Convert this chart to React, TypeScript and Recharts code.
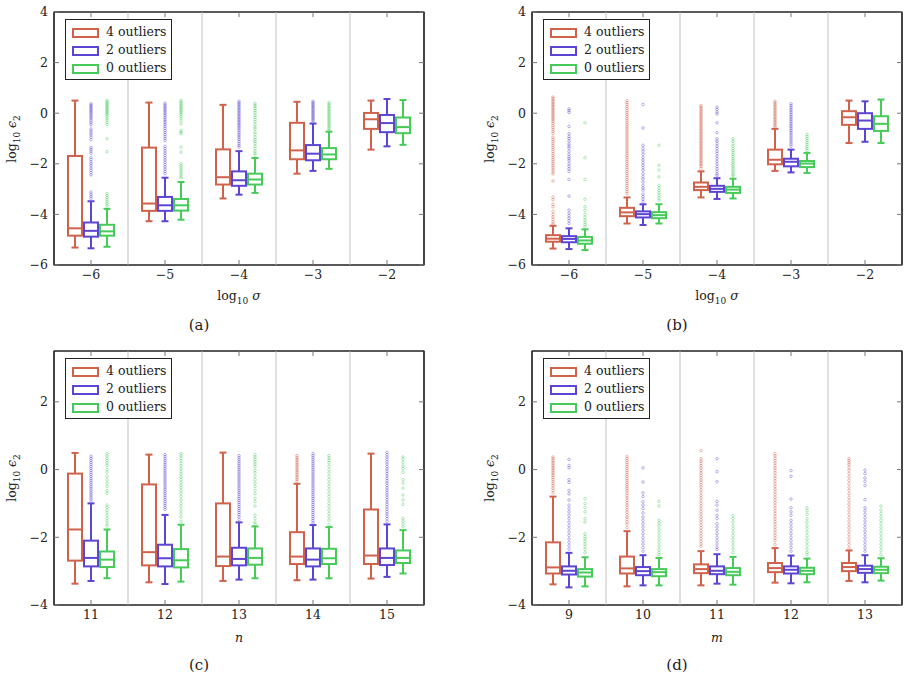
import React from 'react';
import { ComposedChart, Bar, XAxis, YAxis, ReferenceLine, ReferenceArea, Legend } from 'recharts';

// ---- Data ---- stats tuple: [lowerWhisker, q1, median, q3, upperWhisker]
type Stats = [number, number, number, number, number];

const SERIES_NAMES = ['4 outliers', '2 outliers', '0 outliers'];
const SERIES_COLORS = ['#d0624c', '#5d45d3', '#46cb59'];

// Panel (a): log10 sigma
const A_CATS = [-6, -5, -4, -3, -2];
const A_RED: Stats[] = [
  [-5.31, -4.84, -4.55, -1.69, 0.5],
  [-4.27, -3.86, -3.57, -1.36, 0.42],
  [-3.37, -2.82, -2.53, -1.43, 0.33],
  [-2.39, -1.82, -1.47, -0.38, 0.45],
  [-1.44, -0.62, -0.24, 0.01, 0.5],
];
const A_RED_OUT: number[][] = [[], [], [], [], []];
const A_BLUE: Stats[] = [
  [-5.34, -4.88, -4.65, -4.32, -3.48],
  [-4.27, -3.86, -3.64, -3.31, -2.55],
  [-3.22, -2.87, -2.65, -2.3, -1.5],
  [-2.28, -1.86, -1.6, -1.26, -0.41],
  [-1.31, -0.75, -0.39, -0.07, 0.56],
];
const A_BLUE_OUT: number[][] = [
  [0.37, 0.32, 0.27, 0.22, 0.17, 0.12, 0.07, 0.02, -0.04, -0.1, -0.16, -0.22, -0.3, -0.38, -0.46, -0.62, -0.7, -0.78, -0.86, -0.95, -1.05, -1.35, -1.42, -1.5, -1.58, -1.75, -1.83, -1.92, -2.0, -2.08, -2.17, -2.26, -2.35, -2.44, -3.12, -3.2, -3.28, -3.36],
  [0.39, 0.33, 0.27, 0.21, 0.15, 0.09, 0.03, -0.03, -0.1, -0.17, -0.24, -0.31, -0.38, -0.45, -0.52, -0.6, -0.68, -0.76, -0.84, -0.92, -1.0, -1.08, -1.31, -1.4, -1.49, -1.58, -1.67, -1.76, -1.85, -1.94, -2.03, -2.12, -2.21, -2.3, -2.39],
  [0.47, 0.41, 0.35, 0.29, 0.23, 0.17, 0.11, 0.05, -0.01, -0.07, -0.13, -0.19, -0.25, -0.31, -0.37, -0.43, -0.49, -0.55, -0.62, -0.69, -0.76, -0.83, -0.9, -0.97, -1.04, -1.12, -1.2, -1.27, -1.34],
  [0.47, 0.42, 0.37, 0.32, 0.27, 0.22, 0.17, 0.12, 0.07, 0.02, -0.03, -0.08, -0.13, -0.18, -0.23, -0.28, -0.35],
  [],
];
const A_GREEN: Stats[] = [
  [-5.28, -4.84, -4.67, -4.41, -3.78],
  [-4.21, -3.85, -3.64, -3.39, -2.72],
  [-3.15, -2.82, -2.62, -2.39, -1.77],
  [-2.2, -1.82, -1.63, -1.38, -0.73],
  [-1.25, -0.79, -0.55, -0.17, 0.52],
];
const A_GREEN_OUT: number[][] = [
  [0.5, 0.45, 0.4, 0.35, 0.3, 0.25, 0.2, 0.15, 0.1, 0.05, 0.0, -0.05, -0.12, -0.2, -0.28, -0.36, -0.45, -1.01, -1.52, -3.18, -3.26, -3.34, -3.42, -3.5, -3.58, -3.66],
  [0.5, 0.44, 0.38, 0.32, 0.26, 0.2, 0.14, 0.08, 0.02, -0.04, -0.12, -0.2, -0.3, -0.42, -0.68, -0.75, -0.81, -1.34, -1.54, -2.0, -2.08, -2.16, -2.24, -2.32, -2.4, -2.48, -2.56],
  [0.39, 0.32, 0.25, 0.18, 0.1, 0.02, -0.08, -0.16, -0.25, -0.34, -0.45, -0.55, -0.62, -0.75, -0.84, -0.95, -1.05, -1.12, -1.2, -1.3, -1.4, -1.5, -1.58, -1.66],
  [0.42, 0.36, 0.3, 0.24, 0.18, 0.12, 0.06, 0.0, -0.06, -0.12, -0.18, -0.24, -0.3, -0.36, -0.42, -0.48, -0.54, -0.6, -0.66],
  [],
];

// Panel (b): log10 sigma
const B_CATS = [-6, -5, -4, -3, -2];
const B_RED: Stats[] = [
  [-5.35, -5.08, -4.96, -4.82, -4.45],
  [-4.36, -4.07, -3.92, -3.74, -3.33],
  [-3.33, -3.04, -2.91, -2.74, -2.3],
  [-2.28, -2.02, -1.84, -1.44, -0.62],
  [-1.18, -0.46, -0.16, 0.08, 0.5],
];
const B_RED_OUT: number[][] = [
  [0.64, 0.58, 0.52, 0.46, 0.4, 0.34, 0.28, 0.22, 0.16, 0.1, 0.04, -0.02, -0.08, -0.14, -0.2, -0.26, -0.32, -0.4, -0.48, -0.56, -0.64, -0.72, -0.8, -0.95, -1.03, -1.11, -1.19, -1.27, -1.35, -1.43, -1.51, -1.6, -1.68, -1.76, -1.84, -1.92, -2.0, -2.08, -2.16, -2.24, -2.32, -2.4, -2.68, -3.32, -3.42, -3.6, -3.7, -3.88, -4.0, -4.1, -4.2, -4.3, -4.38],
  [0.5, 0.42, 0.34, 0.26, 0.18, 0.1, 0.02, -0.06, -0.14, -0.22, -0.3, -0.38, -0.46, -0.54, -0.62, -0.7, -0.78, -0.86, -0.94, -1.02, -1.1, -1.18, -1.26, -1.34, -1.42, -1.5, -1.58, -1.66, -1.74, -1.82, -1.9, -1.98, -2.06, -2.14, -2.22, -2.3, -2.38, -2.46, -2.54, -2.62, -2.7, -2.78, -2.86, -2.94, -3.02, -3.1, -3.18],
  [0.3, 0.24, 0.18, 0.12, 0.06, 0.0, -0.06, -0.12, -0.18, -0.24, -0.3, -0.36, -0.42, -0.48, -0.54, -0.6, -0.66, -0.72, -0.78, -0.84, -0.9, -0.96, -1.02, -1.08, -1.14, -1.2, -1.26, -1.32, -1.38, -1.44, -1.5, -1.56, -1.62, -1.68, -1.74, -1.8, -1.86, -1.92, -1.98, -2.04, -2.1, -2.19],
  [0.47, 0.41, 0.35, 0.29, 0.23, 0.17, 0.11, 0.05, -0.01, -0.07, -0.13, -0.19, -0.25, -0.31, -0.37, -0.43, -0.49, -0.55],
  [],
];
const B_BLUE: Stats[] = [
  [-5.37, -5.1, -4.97, -4.86, -4.55],
  [-4.42, -4.12, -3.99, -3.88, -3.6],
  [-3.39, -3.11, -2.99, -2.87, -2.57],
  [-2.34, -2.1, -1.92, -1.8, -1.44],
  [-1.13, -0.62, -0.29, 0.0, 0.47],
];
const B_BLUE_OUT: number[][] = [
  [0.17, 0.1, 0.03, -0.52, -0.81, -0.92, -1.0, -1.1, -1.22, -1.3, -1.38, -1.5, -1.62, -1.72, -1.8, -1.88, -2.0, -2.1, -2.2, -2.3, -2.62, -3.28, -3.83, -3.95, -4.05, -4.15, -4.25, -4.36],
  [0.34, -0.58, -1.27, -1.4, -1.5, -1.62, -1.75, -1.85, -1.95, -2.05, -2.15, -2.25, -2.38, -2.5, -2.6, -2.72, -2.85, -2.95, -3.04, -3.2, -3.3, -3.4, -3.5],
  [0.24, 0.15, 0.05, -0.03, -0.38, -0.77, -1.01, -1.1, -1.2, -1.3, -1.4, -1.5, -1.6, -1.7, -1.8, -1.9, -2.0, -2.1, -2.2, -2.3, -2.4, -2.47],
  [0.37, 0.3, 0.23, 0.16, 0.09, 0.02, -0.05, -0.12, -0.19, -0.26, -0.33, -0.4, -0.47, -0.54, -0.61, -0.68, -0.75, -0.82, -0.9, -0.98, -1.06, -1.14, -1.22, -1.31],
  [],
];
const B_GREEN: Stats[] = [
  [-5.41, -5.16, -5.03, -4.89, -4.59],
  [-4.36, -4.15, -4.03, -3.91, -3.6],
  [-3.37, -3.15, -3.02, -2.91, -2.59],
  [-2.36, -2.13, -1.99, -1.89, -1.57],
  [-1.18, -0.7, -0.42, -0.12, 0.54],
];
const B_GREEN_OUT: number[][] = [
  [-0.38, -1.76, -2.62, -3.4, -3.7, -3.85, -4.0, -4.12, -4.22, -4.32, -4.4, -4.49],
  [-1.27, -2.06, -2.25, -2.52, -2.85, -2.95, -3.05, -3.15, -3.25, -3.35, -3.44],
  [-1.01, -1.1, -1.2, -1.3, -1.4, -1.48, -1.56, -1.64, -1.72, -1.8, -1.88, -1.96, -2.04, -2.12, -2.2, -2.28, -2.36, -2.44, -2.49],
  [-0.84, -0.92, -1.0, -1.08, -1.16, -1.24, -1.32, -1.4, -1.47],
  [],
];

// Panel (c): n
const C_CATS = [11, 12, 13, 14, 15];
const C_RED: Stats[] = [
  [-3.37, -2.69, -1.77, -0.12, 0.49],
  [-3.33, -2.83, -2.44, -0.44, 0.44],
  [-3.29, -2.85, -2.57, -1.0, 0.5],
  [-3.27, -2.79, -2.57, -1.85, -0.42],
  [-3.22, -2.79, -2.54, -1.18, 0.47],
];
const C_RED_OUT: number[][] = [
  [], [], [],
  [0.41, 0.36, 0.31, 0.26, 0.21, 0.16, 0.11, 0.06, 0.01, -0.04, -0.09, -0.14, -0.19, -0.24, -0.29, -0.34],
  [],
];
const C_BLUE: Stats[] = [
  [-3.29, -2.86, -2.61, -2.1, -1.0],
  [-3.38, -2.86, -2.62, -2.22, -1.34],
  [-3.25, -2.83, -2.64, -2.31, -1.56],
  [-3.25, -2.86, -2.66, -2.33, -1.64],
  [-3.17, -2.82, -2.61, -2.33, -1.62],
];
const C_BLUE_OUT: number[][] = [
  [0.39, 0.33, 0.27, 0.21, 0.15, 0.09, 0.03, -0.03, -0.09, -0.15, -0.21, -0.27, -0.33, -0.39, -0.45, -0.51, -0.57, -0.63, -0.69, -0.75, -0.81, -0.87, -0.94],
  [0.44, 0.38, 0.32, 0.26, 0.2, 0.14, 0.08, 0.02, -0.04, -0.1, -0.16, -0.22, -0.28, -0.34, -0.4, -0.46, -0.52, -0.58, -0.64, -0.7, -0.76, -0.82, -0.88, -0.94, -1.0, -1.06, -1.12, -1.18],
  [0.41, 0.35, 0.29, 0.23, 0.17, 0.11, 0.05, -0.01, -0.07, -0.13, -0.19, -0.25, -0.31, -0.37, -0.43, -0.49, -0.55, -0.61, -0.67, -0.73, -0.79, -0.85, -0.91, -0.97, -1.03, -1.09, -1.15, -1.21, -1.27, -1.33, -1.4, -1.48],
  [0.47, 0.41, 0.35, 0.29, 0.23, 0.17, 0.11, 0.05, -0.01, -0.07, -0.13, -0.19, -0.25, -0.31, -0.37, -0.43, -0.49, -0.55, -0.61, -0.67, -0.73, -0.79, -0.85, -0.91, -0.97, -1.03, -1.09, -1.15, -1.21, -1.27, -1.33, -1.39, -1.45, -1.51, -1.58],
  [0.51, 0.44, 0.37, 0.3, 0.23, 0.16, 0.09, 0.02, -0.05, -0.12, -0.19, -0.26, -0.33, -0.4, -0.47, -0.54, -0.61, -0.68, -0.75, -0.82, -0.89, -0.96, -1.03, -1.1, -1.17, -1.24, -1.31, -1.38, -1.45, -1.53],
];
const C_GREEN: Stats[] = [
  [-3.21, -2.88, -2.66, -2.42, -1.77],
  [-3.31, -2.89, -2.68, -2.35, -1.63],
  [-3.21, -2.81, -2.61, -2.33, -1.68],
  [-3.21, -2.79, -2.62, -2.34, -1.7],
  [-3.07, -2.76, -2.61, -2.39, -1.79],
];
const C_GREEN_OUT: number[][] = [
  [0.47, 0.4, 0.33, 0.26, 0.19, 0.12, 0.0, -0.08, -0.2, -0.3, -0.4, -0.5, -0.62, -0.7, -1.05, -1.12, -1.2, -1.28, -1.36, -1.44, -1.52, -1.6, -1.67],
  [0.47, 0.4, 0.33, 0.26, 0.18, 0.1, 0.02, -0.06, -0.14, -0.22, -0.3, -0.38, -0.46, -0.54, -0.62, -0.7, -0.8, -0.9, -1.0, -1.1, -1.2, -1.3, -1.4, -1.53],
  [0.44, 0.37, 0.3, 0.23, 0.16, 0.09, -0.02, -0.1, -0.2, -0.3, -0.4, -0.5, -0.62, -0.72, -0.85, -0.95, -1.08, -1.35, -1.45, -1.55, -1.62],
  [0.41, 0.34, 0.27, 0.2, 0.1, 0.0, -0.1, -0.2, -0.3, -0.4, -0.5, -0.6, -0.7, -0.8, -0.9, -1.0, -1.1, -1.2, -1.3, -1.4, -1.5, -1.63],
  [0.37, 0.3, 0.2, 0.1, 0.03, -0.08, -0.3, -0.4, -0.55, -0.75, -0.9, -1.03, -1.44, -1.52, -1.6, -1.69],
];

// Panel (d): m
const D_CATS = [9, 10, 11, 12, 13];
const D_RED: Stats[] = [
  [-3.39, -3.07, -2.89, -2.15, -0.8],
  [-3.45, -3.07, -2.92, -2.57, -1.82],
  [-3.42, -3.06, -2.94, -2.8, -2.41],
  [-3.34, -3.03, -2.91, -2.76, -2.32],
  [-3.29, -3.0, -2.88, -2.76, -2.39],
];
const D_RED_OUT: number[][] = [
  [0.37, 0.32, 0.27, 0.22, 0.17, 0.12, 0.07, 0.02, -0.03, -0.08, -0.13, -0.18, -0.24, -0.3, -0.36, -0.42, -0.48, -0.55, -0.62, -0.69],
  [0.39, 0.33, 0.27, 0.21, 0.15, 0.09, 0.03, -0.03, -0.09, -0.15, -0.21, -0.27, -0.33, -0.39, -0.45, -0.51, -0.57, -0.63, -0.7, -0.77, -0.84, -0.91, -0.98, -1.05, -1.12, -1.19, -1.26, -1.33, -1.4, -1.47, -1.54, -1.61, -1.72],
  [0.56, 0.32, 0.25, 0.18, 0.11, 0.04, -0.03, -0.1, -0.17, -0.24, -0.31, -0.38, -0.45, -0.52, -0.6, -0.68, -0.76, -0.84, -0.92, -1.0, -1.08, -1.16, -1.24, -1.32, -1.4, -1.48, -1.56, -1.64, -1.72, -1.8, -1.88, -1.96, -2.04, -2.12, -2.2, -2.27],
  [0.47, 0.4, 0.33, 0.26, 0.19, 0.12, 0.05, -0.02, -0.1, -0.18, -0.26, -0.34, -0.42, -0.5, -0.58, -0.66, -0.74, -0.82, -0.9, -0.98, -1.06, -1.14, -1.22, -1.3, -1.38, -1.46, -1.54, -1.62, -1.7, -1.78, -1.86, -1.94, -2.02, -2.1, -2.22],
  [0.32, 0.26, 0.2, 0.14, 0.06, -0.02, -0.12, -0.22, -0.32, -0.42, -0.52, -0.62, -0.72, -0.82, -0.92, -1.02, -1.12, -1.22, -1.32, -1.42, -1.52, -1.62, -1.72, -1.82, -1.92, -2.02, -2.12, -2.22, -2.32],
];
const D_BLUE: Stats[] = [
  [-3.48, -3.1, -2.99, -2.86, -2.46],
  [-3.42, -3.12, -3.0, -2.88, -2.53],
  [-3.37, -3.09, -2.99, -2.86, -2.5],
  [-3.36, -3.07, -2.96, -2.86, -2.54],
  [-3.33, -3.05, -2.94, -2.84, -2.53],
];
const D_BLUE_OUT: number[][] = [
  [0.3, 0.12, 0.05, -0.3, -0.38, -0.62, -0.72, -0.9, -1.05, -1.15, -1.25, -1.35, -1.45, -1.55, -1.65, -1.75, -1.85, -1.95, -2.05, -2.15, -2.25, -2.35],
  [0.05, -0.37, -0.69, -0.8, -0.95, -1.05, -1.15, -1.28, -1.4, -1.5, -1.6, -1.7, -1.8, -1.9, -2.0, -2.1, -2.2, -2.3, -2.41],
  [0.32, -0.06, -0.36, -0.94, -1.05, -1.2, -1.35, -1.45, -1.6, -1.7, -1.8, -1.9, -2.0, -2.1, -2.2, -2.3, -2.36],
  [-0.03, -0.2, -0.87, -1.13, -1.25, -1.35, -1.5, -1.6, -1.7, -1.8, -1.9, -2.0, -2.1, -2.2, -2.3, -2.41],
  [-0.02, -0.12, -0.25, -0.35, -0.47, -0.89, -1.13, -1.22, -1.32, -1.42, -1.52, -1.62, -1.72, -1.82, -1.92, -2.02, -2.12, -2.22, -2.32, -2.41],
];
const D_GREEN: Stats[] = [
  [-3.45, -3.16, -3.04, -2.94, -2.59],
  [-3.42, -3.15, -3.03, -2.94, -2.61],
  [-3.4, -3.12, -3.02, -2.91, -2.58],
  [-3.33, -3.09, -2.99, -2.9, -2.63],
  [-3.28, -3.06, -2.96, -2.87, -2.62],
];
const D_GREEN_OUT: number[][] = [
  [-0.86, -1.0, -1.12, -1.25, -1.45, -1.55, -1.9, -1.98, -2.05, -2.12, -2.2, -2.28, -2.36, -2.46],
  [-0.94, -1.08, -1.5, -1.58, -1.66, -1.76, -1.86, -1.96, -2.06, -2.16, -2.26, -2.36, -2.45, -2.51],
  [-1.36, -1.45, -1.55, -1.65, -1.75, -1.85, -1.95, -2.05, -2.15, -2.25, -2.35, -2.46],
  [-1.13, -1.22, -1.32, -1.45, -1.55, -1.65, -1.75, -1.85, -1.95, -2.05, -2.15, -2.25, -2.35, -2.45, -2.51],
  [-1.08, -1.2, -1.3, -1.4, -1.5, -1.6, -1.7, -1.8, -1.9, -2.0, -2.1, -2.2, -2.3, -2.4, -2.51],
];

const TOP_Y_TICKS = [-6, -4, -2, 0, 2, 4];
const BOTTOM_Y_TICKS = [-4, -2, 0, 2];
const SEPARATORS = [1, 2, 3, 4];

// ---- helpers ----
const FONT = '"DejaVu Serif", serif';
const fmt = (v: number) => (v < 0 ? '\u2212' + Math.abs(v) : String(v));
const NoLabel = () => <g />;

function buildRows(cats: number[], stats: Stats[][], outs: number[][][]) {
  return cats.map((c, i) => {
    const row: any = { cat: c, idx: i };
    for (let s = 0; s < 3; s++) {
      const st = stats[s][i];
      row['s' + s] = { lo: st[0], q1: st[1], med: st[2], q3: st[3], hi: st[4], out: outs[s][i] };
    }
    return row;
  });
}

function BoxShape(props: any) {
  const { x, y, width, height, payload, sk, color } = props;
  const s = payload[sk];
  if (!s || width == null) return <g />;
  const top = Math.min(y, y + height);
  const h = Math.abs(height);
  const k = h / (s.hi - s.lo);
  const Y = (v: number) => top + (s.hi - v) * k;
  const cx = x + width / 2;
  const cap = 3.5;
  return (
    <g>
      {s.out.map((v: number, i: number) => (
        <circle key={i} cx={cx} cy={Y(v)} r={1.3} fill="none" stroke={color} strokeOpacity={0.5} strokeWidth={0.8} />
      ))}
      <line x1={cx} x2={cx} y1={Y(s.hi)} y2={Y(s.q3)} stroke={color} strokeWidth={2} />
      <line x1={cx} x2={cx} y1={Y(s.q1)} y2={Y(s.lo)} stroke={color} strokeWidth={2} />
      <line x1={cx - cap} x2={cx + cap} y1={Y(s.hi)} y2={Y(s.hi)} stroke={color} strokeWidth={2} />
      <line x1={cx - cap} x2={cx + cap} y1={Y(s.lo)} y2={Y(s.lo)} stroke={color} strokeWidth={2} />
      <rect x={x} y={Y(s.q3)} width={width} height={Y(s.q1) - Y(s.q3)} fill="#fff" stroke={color} strokeWidth={2} />
      <line x1={x} x2={x + width} y1={Y(s.med)} y2={Y(s.med)} stroke={color} strokeWidth={2} />
    </g>
  );
}

function LegendBox() {
  return (
    <div style={{ border: '1px solid #222', background: '#fff', width: 105, height: 59, boxSizing: 'content-box', fontFamily: FONT, fontSize: 12.5, color: '#222' }}>
      {SERIES_NAMES.map((n, i) => (
        <div key={n} style={{ position: 'relative', height: 18, marginTop: i === 0 ? 3 : 0 }}>
          <div style={{ position: 'absolute', left: 6, top: 5, width: 23, height: 6, border: '2px solid ' + SERIES_COLORS[i], background: '#fff' }} />
          <div style={{ position: 'absolute', left: 40, top: 0, lineHeight: '18px', whiteSpace: 'nowrap' }}>{n}</div>
        </div>
      ))}
    </div>
  );
}

type PanelProps = {
  left: number; top: number; rows: any[]; yDomain: [number, number]; yTicks: number[];
  xLabel: React.ReactNode; caption: string; bottomMargin: number;
};

function Panel({ left, top, rows, yDomain, yTicks, xLabel, caption, bottomMargin }: PanelProps) {
  const W = 450, H = 300;
  const mTop = 11, mRight = 25, yW = 54, xH = 30;
  const plotTop = mTop + 1;
  const plotBottom = H - bottomMargin - xH;
  const plotCenterY = (plotTop + plotBottom) / 2;
  const axisStroke = { stroke: '#222', strokeWidth: 1.2 };
  const tickStroke = { stroke: '#777', strokeWidth: 1 };
  const tickStyle = { fontFamily: FONT, fontSize: 12.5, fill: '#222' };
  return (
    <div style={{ position: 'absolute', left, top, width: W, height: 340 }}>
      <ComposedChart width={W} height={H} data={rows} margin={{ top: mTop, right: mRight, bottom: bottomMargin, left: 0 }} barSize={14} barGap={2}>
        <XAxis xAxisId="sep" type="number" dataKey="idx" domain={[0, 5]} hide />
        <XAxis xAxisId="cat" dataKey="cat" type="category" height={xH} tickFormatter={fmt} tick={tickStyle} tickSize={-5} tickMargin={10} axisLine={axisStroke} tickLine={tickStroke} interval={0} />
        <XAxis xAxisId="top" dataKey="cat" type="category" orientation="top" height={1} tick={NoLabel} tickSize={-5} tickMargin={0} axisLine={axisStroke} tickLine={tickStroke} interval={0} />
        <YAxis yAxisId="y" type="number" domain={yDomain} ticks={yTicks} width={yW} tickFormatter={fmt} tick={tickStyle} tickSize={-5} tickMargin={11} axisLine={axisStroke} tickLine={tickStroke} allowDataOverflow />
        <YAxis yAxisId="yr" type="number" orientation="right" domain={yDomain} ticks={yTicks} width={1} tick={NoLabel} tickSize={-5} tickMargin={0} axisLine={axisStroke} tickLine={tickStroke} allowDataOverflow />
        {SEPARATORS.map((s) => (
          <ReferenceLine key={s} xAxisId="sep" yAxisId="y" x={s} stroke="#e0e0e0" strokeWidth={2} ifOverflow="visible" />
        ))}
        <ReferenceArea xAxisId="sep" yAxisId="y" x1={0} x2={5} y1={yDomain[0]} y2={yDomain[1]} fill="none" fillOpacity={0} stroke="#222" strokeWidth={1.2} ifOverflow="visible" />
        {[0, 1, 2].map((si) => (
          <Bar
            key={si}
            xAxisId="cat"
            yAxisId="y"
            dataKey={(d: any) => [d['s' + si].lo, d['s' + si].hi]}
            isAnimationActive={false}
            shape={(p: any) => <BoxShape {...p} sk={'s' + si} color={SERIES_COLORS[si]} />}
          />
        ))}
        <Legend layout="horizontal" verticalAlign="middle" align="center" wrapperStyle={{ left: 65, top: plotTop + 7, width: 107, height: 61 }} content={() => <LegendBox />} />
      </ComposedChart>
      <div style={{ position: 'absolute', left: 13, top: plotCenterY, transform: 'translate(-50%, -50%) rotate(-90deg)', fontFamily: FONT, fontSize: 12.5, color: '#222', whiteSpace: 'nowrap' }}>
        log<sub style={{ fontSize: 9 }}>10</sub> <i>ϵ</i><sub style={{ fontSize: 9 }}>2</sub>
      </div>
      <div style={{ position: 'absolute', left: 239, top: plotBottom + 32, transform: 'translate(-50%, -50%)', fontFamily: FONT, fontSize: 12.5, color: '#222', whiteSpace: 'nowrap' }}>
        {xLabel}
      </div>
      <div style={{ position: 'absolute', left: 199, top: plotBottom + 60, transform: 'translate(-50%, -50%)', fontFamily: FONT, fontSize: 15, color: '#222', whiteSpace: 'nowrap' }}>
        {caption}
      </div>
    </div>
  );
}

const ROWS_A = buildRows(A_CATS, [A_RED, A_BLUE, A_GREEN], [A_RED_OUT, A_BLUE_OUT, A_GREEN_OUT]);
const ROWS_B = buildRows(B_CATS, [B_RED, B_BLUE, B_GREEN], [B_RED_OUT, B_BLUE_OUT, B_GREEN_OUT]);
const ROWS_C = buildRows(C_CATS, [C_RED, C_BLUE, C_GREEN], [C_RED_OUT, C_BLUE_OUT, C_GREEN_OUT]);
const ROWS_D = buildRows(D_CATS, [D_RED, D_BLUE, D_GREEN], [D_RED_OUT, D_BLUE_OUT, D_GREEN_OUT]);

const sigmaLabel = (
  <span>log<sub style={{ fontSize: 9 }}>10</sub> <i>σ</i></span>
);

export default function App() {
  return (
    <div style={{ position: 'absolute', left: 0, top: 0, width: 909, height: 695, background: '#fff', overflow: 'hidden' }}>
      <Panel left={0} top={0} rows={ROWS_A} yDomain={[-6, 4]} yTicks={TOP_Y_TICKS} xLabel={sigmaLabel} caption="(a)" bottomMargin={5} />
      <Panel left={478} top={0} rows={ROWS_B} yDomain={[-6, 4]} yTicks={TOP_Y_TICKS} xLabel={sigmaLabel} caption="(b)" bottomMargin={5} />
      <Panel left={0} top={339} rows={ROWS_C} yDomain={[-4, 3.5]} yTicks={BOTTOM_Y_TICKS} xLabel={<i>n</i>} caption="(c)" bottomMargin={4} />
      <Panel left={478} top={339} rows={ROWS_D} yDomain={[-4, 3.5]} yTicks={BOTTOM_Y_TICKS} xLabel={<i>m</i>} caption="(d)" bottomMargin={4} />
    </div>
  );
}
